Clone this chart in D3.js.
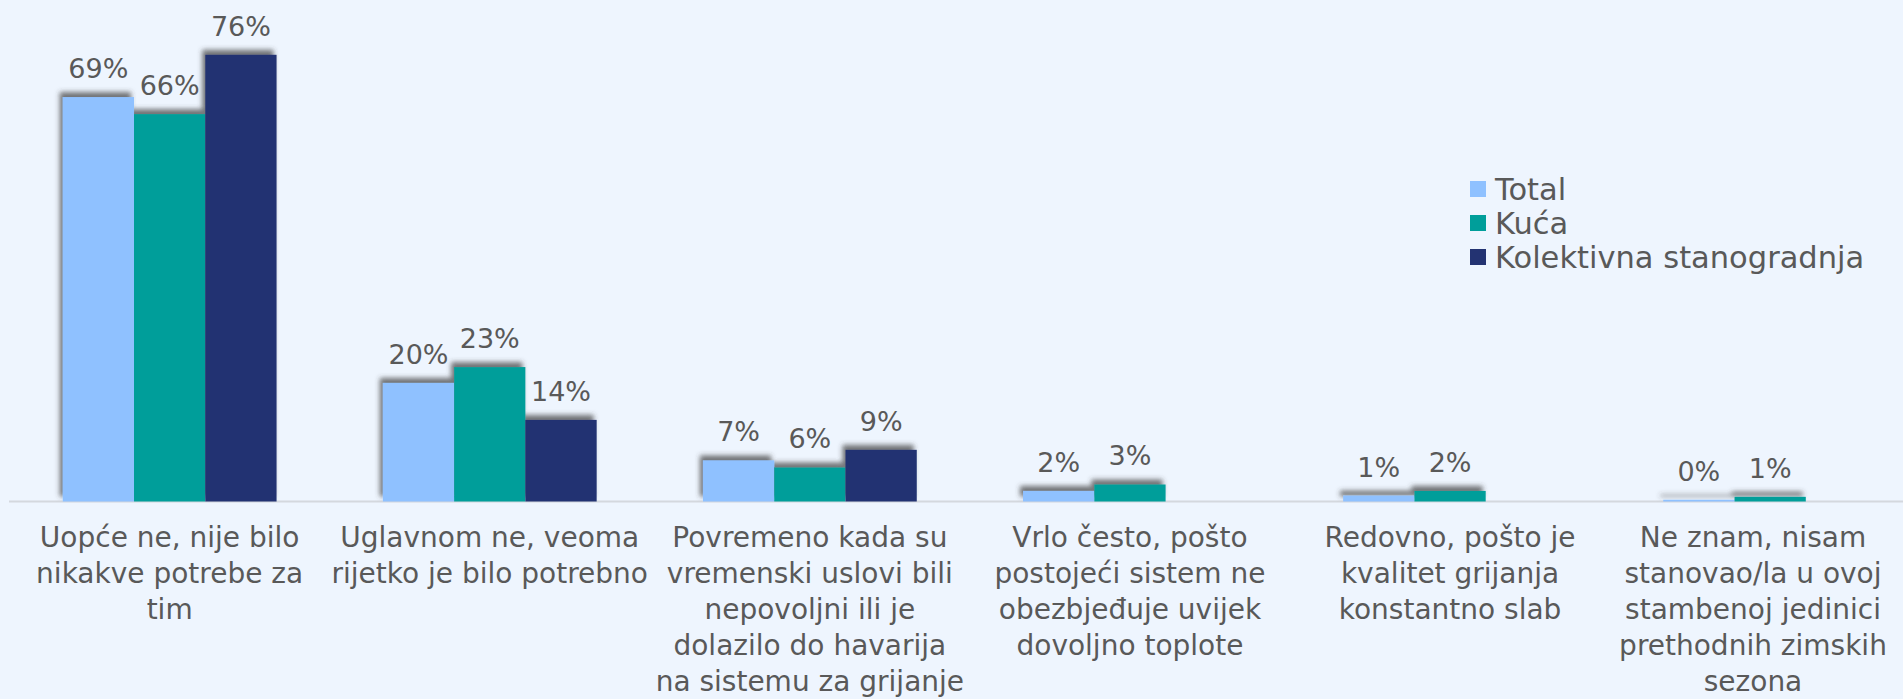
<!DOCTYPE html>
<html>
<head>
<meta charset="utf-8">
<script src="https://cdn.jsdelivr.net/npm/d3@7"></script>
<style>
    html, body { margin: 0; padding: 0; background: #eef5fe; overflow: hidden; }
    text { font-family: "DejaVu Sans", sans-serif; fill: #595959; }
</style>
</head>
<body>
<script>
// categories (line breaks as in the original)
const categories = [
    "Uopće ne, nije bilo\nnikakve potrebe za\ntim",
    "Uglavnom ne, veoma\nrijetko je bilo potrebno",
    "Povremeno kada su\nvremenski uslovi bili\nnepovoljni ili je\ndolazilo do havarija\nna sistemu za grijanje",
    "Vrlo često, pošto\npostojeći sistem ne\nobezbjeđuje uvijek\ndovoljno toplote",
    "Redovno, pošto je\nkvalitet grijanja\nkonstantno slab",
    "Ne znam, nisam\nstanovao/la u ovoj\nstambenoj jedinici\nprethodnih zimskih\nsezona"
];

const seriesNames = ["Total", "Kuća", "Kolektivna stanogradnja"];
const seriesColors = ["#8fc1ff", "#009e9a", "#233372"];

// values in %
const total = [68.9, 20.2, 7.0, 1.8, 1.0, 0.3];
const kuca = [66.0, 22.9, 5.8, 2.9, 1.8, 0.8];
const kolektivna = [76.1, 13.9, 8.8, null, null, null];

const seriesValues = [total, kuca, kolektivna];

const width = 1903;
const height = 699;
const baseline = 501.5;

let svg = d3.select("body")
    .append("svg")
    .attr("width", width)
    .attr("height", height);

svg.append("rect")
    .attr("width", width)
    .attr("height", height)
    .attr("fill", "#eef5fe");

// shadow up-left, like the original
const defs = svg.append("defs");
defs.append("filter")
    .attr("id", "shadow")
    .attr("x", "-20%").attr("y", "-20%")
    .attr("width", "140%").attr("height", "140%")
    .append("feDropShadow")
    .attr("dx", -3)
    .attr("dy", -5)
    .attr("stdDeviation", 2.8)
    .attr("flood-color", "#3a3a3a")
    .attr("flood-opacity", 0.7);

// plot runs a bit past the right edge (chart is cropped)
const x0 = d3.scaleBand()
    .domain(categories)
    .range([9.6, 1930.2])
    .paddingInner(0.332)
    .paddingOuter(0.166);

const x1 = d3.scaleBand()
    .domain(seriesNames)
    .range([0, x0.bandwidth()]);

const y = d3.scaleLinear()
    .domain([0, 80])
    .range([baseline, baseline - 80 * 5.87]);

// flat rows for the bars
let rows = [];
categories.forEach((c, i) => {
    seriesNames.forEach((s, j) => {
        if (seriesValues[j][i] != null) {
            rows.push({ cat: c, series: s, color: seriesColors[j], value: seriesValues[j][i] });
        }
    });
});

// axis line
svg.append("line")
    .attr("x1", 9)
    .attr("x2", width)
    .attr("y1", baseline)
    .attr("y2", baseline)
    .attr("stroke", "#d4d8de")
    .attr("stroke-width", 2);

const bars = svg.append("g")
    .attr("filter", "url(#shadow)");

bars.selectAll("rect")
    .data(rows)
    .enter()
    .append("rect")
    .attr("x", d => x0(d.cat) + x1(d.series))
    .attr("y", d => y(d.value))
    .attr("width", x1.bandwidth())
    .attr("height", d => y(0) - y(d.value))
    .attr("fill", d => d.color);

// value labels
svg.append("g")
    .selectAll("text")
    .data(rows)
    .enter()
    .append("text")
    .attr("x", d => x0(d.cat) + x1(d.series) + x1.bandwidth() / 2)
    .attr("y", d => y(d.value) - 19)
    .attr("text-anchor", "middle")
    .style("font-size", "27px")
    .text(d => Math.round(d.value) + "%");

// category labels, kept inside the picture like Excel does
const labelBox = 300;
const catLabels = svg.append("g")
    .selectAll("text")
    .data(categories)
    .enter()
    .append("text")
    .attr("text-anchor", "middle")
    .style("font-size", "28px")
    .attr("transform", d => {
        let cx = x0(d) + x0.bandwidth() / 2;
        cx = Math.min(cx, width - labelBox / 2);
        return "translate(" + cx + ",547)";
    });

catLabels.selectAll("tspan")
    .data(d => d.split("\n"))
    .enter()
    .append("tspan")
    .attr("x", 0)
    .attr("y", (d, i) => i * 36)
    .text(d => d);

// legend
const legend = svg.append("g")
    .attr("transform", "translate(1470,181)");

const item = legend.selectAll("g")
    .data(seriesNames)
    .enter()
    .append("g")
    .attr("transform", (d, i) => "translate(0," + i * 34 + ")");

item.append("rect")
    .attr("width", 16)
    .attr("height", 16)
    .attr("fill", (d, i) => seriesColors[i]);

item.append("text")
    .attr("x", 25)
    .attr("y", 19)
    .style("font-size", "30.5px")
    .text(d => d);
</script>
</body>
</html>
